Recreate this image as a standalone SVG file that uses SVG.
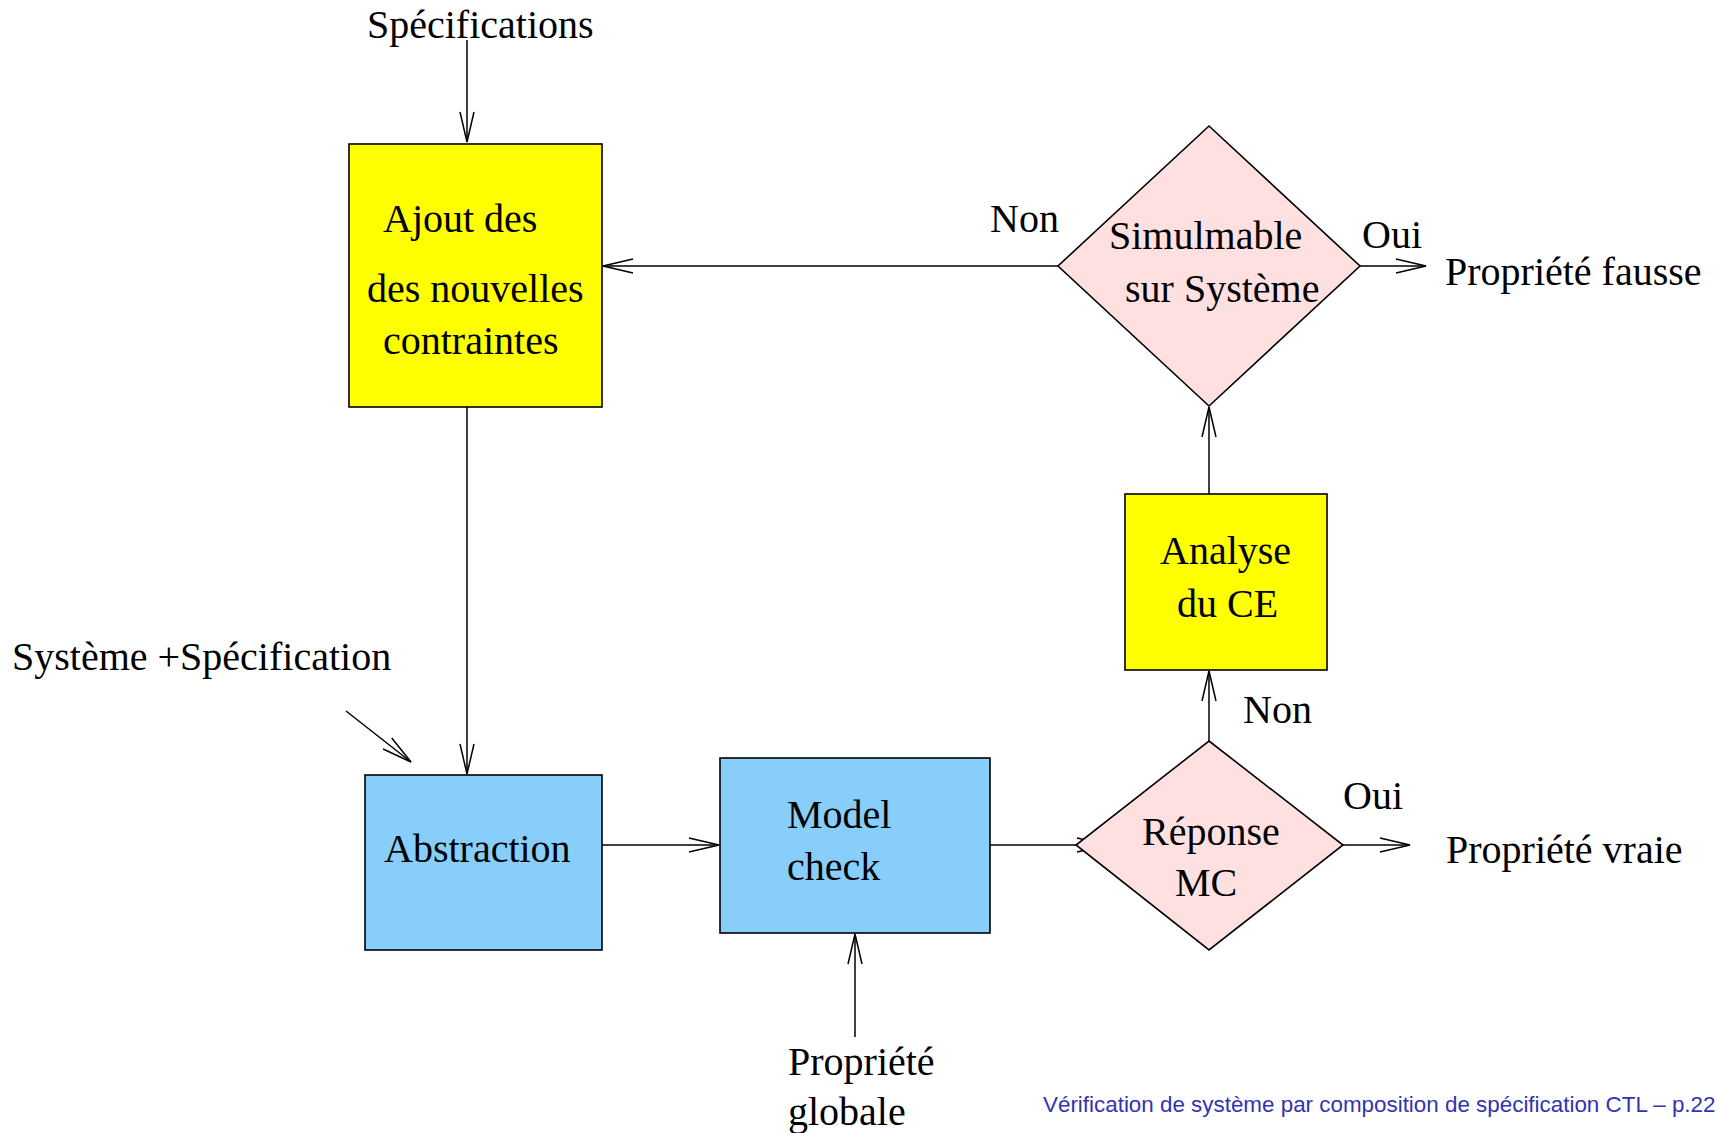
<svg xmlns="http://www.w3.org/2000/svg" width="1720" height="1133" viewBox="0 0 1720 1133">
  <style>
    .lbl { font-family: "Liberation Serif", "Times New Roman", serif; font-size: 40px; fill: #000; }
    .foot { font-family: "Liberation Sans", Arial, sans-serif; font-size: 22.4px; fill: #3333b3; }
    .box { stroke: #000; stroke-width: 1.6; }
    .yellow { fill: #ffff00; }
    .blue { fill: #87cefa; }
    .pink { fill: #ffe0e0; }
    .wire { fill: none; stroke: #000; stroke-width: 1.5; }
  </style>
  <defs>
    <marker id="arrow" markerUnits="userSpaceOnUse" viewBox="-32 -9 34 18" markerWidth="34" markerHeight="18" refX="0" refY="0" orient="auto" overflow="visible">
      <path d="M-30,-7 L0,0 L-30,7" fill="none" stroke="#000" stroke-width="1.5"/>
    </marker>
  </defs>

  <rect width="1720" height="1133" fill="#fff"/>

  <!-- connectors (drawn first so node shapes sit on top) -->
  <g id="connectors">
    <path class="wire" d="M467,40 V142" marker-end="url(#arrow)"/>
    <path class="wire" d="M467,407 V774" marker-end="url(#arrow)"/>
    <path class="wire" d="M346,711 L411,762" marker-end="url(#arrow)"/>
    <path class="wire" d="M602,845 H719" marker-end="url(#arrow)"/>
    <path class="wire" d="M990,845 H1107" marker-end="url(#arrow)"/>
    <path class="wire" d="M855,1037 V934" marker-end="url(#arrow)"/>
    <path class="wire" d="M1343,845 H1410" marker-end="url(#arrow)"/>
    <path class="wire" d="M1209,741 V671" marker-end="url(#arrow)"/>
    <path class="wire" d="M1209,494 V407" marker-end="url(#arrow)"/>
    <path class="wire" d="M1360,266 H1426" marker-end="url(#arrow)"/>
    <path class="wire" d="M1058,266 H603" marker-end="url(#arrow)"/>
  </g>

  <!-- free labels -->
  <g id="labels">
    <text class="lbl" x="367" y="38">Spécifications</text>
    <text class="lbl" x="12" y="670">Système +Spécification</text>
    <text class="lbl" x="990" y="232">Non</text>
    <text class="lbl" x="1362" y="248">Oui</text>
    <text class="lbl" x="1445" y="285">Propriété fausse</text>
    <text class="lbl" x="1243" y="723">Non</text>
    <text class="lbl" x="1343" y="809">Oui</text>
    <text class="lbl" x="1446" y="863">Propriété vraie</text>
    <text class="lbl" x="788" y="1075">Propriété</text>
    <text class="lbl" x="788" y="1125">globale</text>
  </g>

  <g id="ajout">
    <rect class="box yellow" x="349" y="144" width="253" height="263"/>
    <text class="lbl" x="383" y="232">Ajout des</text>
    <text class="lbl" x="367" y="302">des nouvelles</text>
    <text class="lbl" x="383" y="354">contraintes</text>
  </g>

  <g id="abstraction">
    <rect class="box blue" x="365" y="775" width="237" height="175"/>
    <text class="lbl" x="384" y="862">Abstraction</text>
  </g>

  <g id="modelcheck">
    <rect class="box blue" x="720" y="758" width="270" height="175"/>
    <text class="lbl" x="787" y="828">Model</text>
    <text class="lbl" x="787" y="880">check</text>
  </g>

  <g id="reponse">
    <polygon class="box pink" points="1209,741 1343,845 1209,950 1076,845"/>
    <text class="lbl" x="1142" y="845">Réponse</text>
    <text class="lbl" x="1175" y="896">MC</text>
  </g>

  <g id="analyse">
    <rect class="box yellow" x="1125" y="494" width="202" height="176"/>
    <text class="lbl" x="1160" y="564">Analyse</text>
    <text class="lbl" x="1177" y="617">du CE</text>
  </g>

  <g id="simulmable">
    <polygon class="box pink" points="1209,126 1360,266 1209,406 1058,266"/>
    <text class="lbl" x="1109" y="249">Simulmable</text>
    <text class="lbl" x="1125" y="302">sur Système</text>
  </g>

  <text class="foot" x="1043" y="1112">Vérification de système par composition de spécification CTL – p.22</text>
</svg>
